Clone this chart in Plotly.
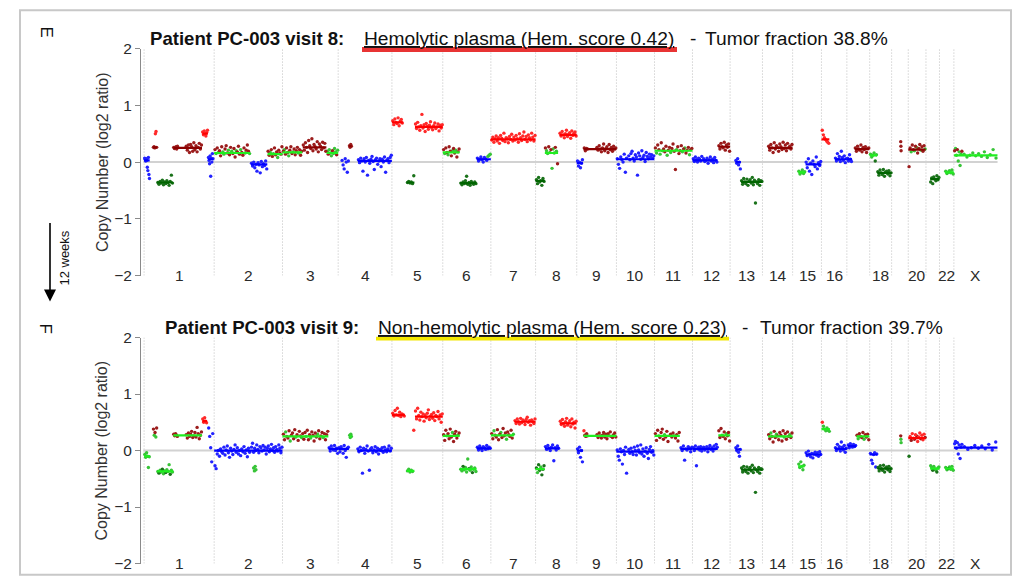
import plotly.graph_objects as go

# ---------------- data ----------------
CHR_LEN = [249.3, 243.2, 198.0, 191.2, 180.9, 171.1, 159.1, 146.4, 141.2, 135.5, 135.0, 133.9,
           115.2, 107.3, 102.5, 90.4, 81.2, 78.1, 59.1, 63.0, 48.1, 51.3, 155.3]
CHR_LABELS = ['1', '2', '3', '4', '5', '6', '7', '8', '9', '10', '11', '12', '13', '14', '15', '16',
              '', '18', '', '20', '', '22', 'X']

# segment lines: (chrom, start Mb, end Mb, log2 ratio, colour code)
TOP_SEGS = [
    (1, 0, 20, 0.03, 'b'), (1, 32, 46, 0.26, 'd'), (1, 47, 103, -0.36, 'k'), (1, 104, 206, 0.25, 'd'),
    (1, 207, 227, 0.50, 'r'), (1, 228, 246, 0.05, 'b'),
    (2, 0, 128, 0.16, 'G'), (2, 131, 189, -0.04, 'b'), (2, 190, 243, 0.14, 'G'),
    (3, 0, 70, 0.17, 'G'), (3, 72, 156, 0.26, 'd'), (3, 157, 198, 0.16, 'G'),
    (4, 39, 48, 0.28, 'd'), (4, 70, 191, 0.02, 'b'),
    (5, 0, 39, 0.70, 'r'), (5, 53, 80, -0.36, 'k'), (5, 82, 181, 0.62, 'r'),
    (6, 0, 60, 0.17, 'G'), (6, 62, 120, -0.37, 'k'), (6, 121, 171, 0.05, 'b'),
    (7, 0, 159, 0.40, 'r'),
    (8, 0, 32, -0.33, 'k'), (8, 33, 80, 0.16, 'G'), (8, 85, 146, 0.48, 'r'),
    (9, 0, 22, -0.02, 'b'), (9, 24, 141, 0.23, 'd'),
    (10, 0, 135, 0.05, 'b'),
    (11, 0, 135, 0.20, 'G'),
    (12, 0, 89, 0.03, 'b'), (12, 92, 134, 0.27, 'd'),
    (13, 19, 38, 0.0, 'b'), (13, 39, 115, -0.35, 'k'),
    (14, 20, 107, 0.25, 'd'),
    (15, 20, 45, -0.18, 'G'), (15, 46, 102, -0.04, 'b'),
    (16, 0, 28, 0.40, 'r'), (16, 48, 90, 0.05, 'b'),
    (17, 0, 18, 0.05, 'b'), (17, 28, 80, 0.23, 'd'),
    (18, 0, 26, 0.12, 'G'), (18, 27, 78, -0.19, 'k'),
    (20, 0, 62, 0.22, 'd'),
    (21, 15, 48, -0.30, 'k'),
    (22, 20, 51, -0.18, 'G'),
    (23, 0, 155, 0.12, 'G'),
]

BOT_SEGS = [
    (1, 0, 20, -0.10, 'G'), (1, 47, 103, -0.37, 'G'), (1, 104, 206, 0.27, 'G'), (1, 207, 224, 0.52, 'r'),
    (2, 0, 243, 0.0, 'b'),
    (3, 0, 163, 0.25, 'G'), (3, 164, 198, 0.03, 'b'),
    (4, 0, 38, 0.03, 'b'), (4, 40, 48, 0.25, 'G'), (4, 68, 191, 0.0, 'b'),
    (5, 0, 46, 0.63, 'r'), (5, 53, 80, -0.36, 'G'), (5, 82, 181, 0.60, 'r'),
    (6, 0, 60, 0.26, 'G'), (6, 62, 120, -0.33, 'G'), (6, 121, 171, 0.04, 'b'),
    (7, 0, 82, 0.27, 'G'), (7, 84, 159, 0.51, 'r'),
    (8, 0, 32, -0.33, 'G'), (8, 33, 84, 0.04, 'b'), (8, 86, 146, 0.48, 'r'),
    (9, 0, 22, 0.0, 'b'), (9, 24, 141, 0.26, 'G'),
    (10, 0, 135, -0.02, 'b'),
    (11, 0, 90, 0.26, 'G'), (11, 92, 135, 0.03, 'b'),
    (12, 0, 90, 0.03, 'b'), (12, 92, 134, 0.27, 'G'),
    (13, 19, 38, 0.02, 'b'), (13, 39, 115, -0.34, 'k'),
    (14, 20, 107, 0.25, 'G'),
    (15, 20, 42, -0.28, 'G'), (15, 46, 102, -0.07, 'b'),
    (16, 0, 30, 0.38, 'G'), (16, 48, 90, 0.03, 'b'),
    (17, 3, 33, 0.08, 'b'), (17, 34, 80, 0.25, 'G'),
    (18, 0, 27, -0.07, 'b'), (18, 28, 78, -0.32, 'k'),
    (20, 0, 62, 0.22, 'r'),
    (21, 15, 48, -0.32, 'G'),
    (22, 20, 51, -0.32, 'G'),
    (23, 0, 155, 0.05, 'b'),
]

# bin blocks: (chrom, start Mb, end Mb, centre, default colour, bin deviations in 1/100 log2 units [+colour])
TOP_BINS = [
    (1, 1, 20, 0.03, 'b', "4 2 -1 3 0 -12 -18 5 -25 -32"),
    (1, 32, 46, 0.26, 'd', "0 1 -1 24r 28r 0"),
    (1, 47, 103, -0.36, 'k', "0 -3 2 -1 4 -4 1 -2 3 0 -5 2 13 -1"),
    (1, 104, 120, 0.25, 'd', "1 -1 0 2 -2 3"),
    (1, 148, 206, 0.25, 'd', "3 -4 5 -8 6 2 -6 9 -3 4 -7 1 8 -2 5"),
    (1, 207, 227, 0.50, 'r', "3 -2 5 0 -4 2 6"),
    (1, 228, 246, 0.05, 'b', "3 -2 -8 6 -30 2 -5 10 1"),
    (2, 1, 128, 0.17, 'd', "5 -2g 8 0g 3 -6 10 1g -3g 6 12 -1 4g -4 9 2g -2 7 -8 3g 1 11 -3 5g 0 -5 8 -1g 4 13 2 -2g"),
    (2, 131, 189, -0.04, 'b', "2 -3 4 -6 0 -12 3 -1 -15 5 -4 1 -2 6 -8"),
    (2, 190, 243, 0.15, 'd', "4 -3 2g 7 -5 0g 10 -2 3 -7g 6 1 -1 12"),
    (3, 1, 70, 0.17, 'd', "2 5g -3 8 0 -6g 4 10 -2 1g 6 -4 3 9 -1g 5 -5 2"),
    (3, 72, 156, 0.26, 'd', "4 -5 8 0 -9 12 3 -2 15 -6 5 1 -3 10 -8 6 2 -4 9 -1 7 -7"),
    (3, 157, 198, 0.16, 'g', "3 -2d 6 0 -5 4d -1 8 2 -3d 5"),
    (4, 12, 38, 0.0, 'b', "3 -5 -12 6 0 -18 2"),
    (4, 39, 48, 0.28, 'd', "1 -2 3 0"),
    (4, 70, 191, 0.02, 'b', "2 -3 5 0 -18 4 -2 6 -25 1 -4 3 8 -1 -15 2 5 -6 0 4 -10 3 -2 7 -20 1 4 -3 6 10"),
    (5, 1, 39, 0.70, 'r', "3 -4 6 0 -2 8 -6 2 5 -1"),
    (5, 53, 80, -0.36, 'k', "0 2 -1 1 -2 12"),
    (5, 82, 181, 0.62, 'r', "5 -3 8 0 -6 2 22 -2 4 -8 6 1 -4 3 9 -1 -5 2 7 -3 0 5 -7 3 -2 4"),
    (6, 1, 60, 0.17, 'd', "5 -2g 8 0 -4g 10 2 -6 3g 7 -1 4g -8 1 6"),
    (6, 62, 120, -0.37, 'k', "0 -3 2 -1 4 12 -2 1 -4 3 0 -2 2 -1"),
    (6, 121, 171, 0.05, 'b', "2 -3 0 4 -1 -5 3 1 -2 5g 7g 9g"),
    (7, 1, 159, 0.41, 'r', "-2 3 -6 0 5 -4 2 -8 6 1 -3 10 -5 2 0 -7 4 -1 8 -4 3 -2 6 0 -6 9 2 -3 5 12 -1 4 -5 7 2 -2 10 3 -4 6"),
    (8, 1, 32, -0.33, 'k', "2 -5 6 -2 0 -8 4 -1"),
    (8, 33, 80, 0.17, 'g', "8d 3 -2 10d 0 5d -28 6 -1 9d 2 -20d"),
    (8, 85, 146, 0.48, 'r', "3 -2 6 0 -5 2 8 -3 1 4 -6 7 -1 3 5 -2"),
    (9, 1, 22, -0.02, 'b', "4 -5 2 -8 0 6"),
    (9, 25, 40, 0.23, 'd', "2 -3 1 0"),
    (9, 70, 141, 0.23, 'd', "3 -2 6 0 -5 2 9 -3 1 4 -6 8 -1 3 -4 5 0 2"),
    (10, 1, 38, 0.04, 'b', "2 -8 -15 5 0 -4 10 -22 3"),
    (10, 42, 135, 0.07, 'b', "4 -3 8 12 0 -5 6 2 -30 9 4 -2 13 1 5 -6 10 3 -1 7 2 6 0 4"),
    (11, 1, 135, 0.20, 'd', "5 -4g 10 2 -6g 14 0g 3 -2 8 -8g 1 6 -3g 4 12 -1 -33 2g 7 -5 0 9 -2g 3 5g -4 1 6 -7g 2 4"),
    (12, 1, 35, 0.04, 'b', "2 -3 5 0 -4 3 1 -2 6"),
    (12, 38, 89, 0.03, 'b', "3 -2 0 4 -5 1 6 -1 2 -4 5 0 -3"),
    (12, 92, 134, 0.27, 'd', "2 -4 6 0 -2 8 -6 3 -1 5 -8"),
    (13, 19, 38, 0.0, 'b', "3 -2 6 -5 0 -12"),
    (13, 39, 115, -0.35, 'k', "2 -4 6 0 -3 5 -6 1 4 -2 8 -5 3 -37 0 -3 4 -6 2 1"),
    (14, 20, 107, 0.25, 'd', "3 -4 6 0 -8 9 -2 4 1 -6 7 2 -3 10 -1 5 -5 8 0 3 -2 6"),
    (15, 20, 45, -0.18, 'g', "2 -3 0 4 -2 1"),
    (15, 46, 102, -0.04, 'b', "4 -6 10 -12 2 -18 6 0 -4 13 -8 3 -2 5"),
    (16, 1, 28, 0.40, 'r', "16 8 3 0 -3 -5 -7"),
    (16, 48, 90, 0.05, 'b', "2 -3 10 0 5 -4 14 3 -2 6 -6 1"),
    (17, 1, 18, 0.05, 'b', "2 -3 8 0 -4"),
    (17, 28, 80, 0.23, 'd', "2 -4 5 0 -2 7 -5 3 -1 4 -6 1 2"),
    (18, 1, 26, 0.12, 'g', "2 -3 0 4 -10k 1"),
    (18, 27, 78, -0.19, 'k', "2 -4 5 0 -3 6 -6 1 3 -2 4 -5 0"),
    (19, 32, 34, 0.28, 'd', "8 0 -8"),
    (20, 1, 62, 0.22, 'd', "-30 3 -4g 8 0 -2g 6 4g -6 2 9 -1g 5 -3 7 1g"),
    (21, 15, 48, -0.30, 'k', "-5 2 -8 4 0 -3 6 -1 3"),
    (22, 20, 51, -0.18, 'g', "2 -2 0 3 -1 4 -3"),
    (23, 1, 30, 0.14, 'g', "6d 10 -2 8d -12 4 -20 0 5d"),
    (23, 31, 155, 0.12, 'g', "2 -3 0 4 -1 3 -2 6 -4 1 10 -5"),
]

BOT_BINS = [
    (1, 1, 20, -0.10, 'g', "3 -2 6 0 -20 -1"),
    (1, 32, 46, 0.30, 'd', "8 -3g 2 -6g 10"),
    (1, 47, 103, -0.37, 'g', "0 -3k 2 -1 4k -4 1 -2k 3 0 12 -5k 2 -1"),
    (1, 104, 120, 0.27, 'd', "2 -1 3 0 -2"),
    (1, 148, 206, 0.26, 'd', "2 -4 5 -1 3 8 -3 0 6 -2 15 4 -5 1 7"),
    (1, 207, 224, 0.52, 'r', "4 -2 6 0 -3"),
    (1, 228, 246, 0.10, 'b', "30 15 -5 -30 20"),
    (2, 1, 128, -0.02, 'b', "-25 -30 -4 2 -8 5 0 -3 8 -6 3 10 -2 -10 6 1 -5 4 12 -1 7 -4 2 -7 5 0 9 -3 3 -9 6 -1"),
    (2, 131, 243, 0.02, 'b', "4 11 -5 2 -2 8 0 -6 5 3 -3 7 -1 4 -8 2 6 -4 1 9 -2 3 -5 5 0 -3 8 2 -6 4"),
    (2, 139, 150, -0.33, 'g', "2 -3 5 -1"),
    (3, 1, 163, 0.25, 'd', "4 -6 8g 0 -3 10 -8g 2 6 -4 12 -1g 3 -7 9 1 -2g 5 -5 7 0g 11 -6 3 -3g 8 2 -8 6 -1 4g 10 -4 1 7 -2g 5 -6 3 9"),
    (3, 164, 198, 0.03, 'b', "2 -4 5 0 -2 6 -3 1 -8"),
    (4, 1, 38, 0.03, 'b', "2 -5 4 0 -8 6 -3 -15 1 3"),
    (4, 40, 48, 0.25, 'g', "2 -2 4 0"),
    (4, 68, 191, 0.0, 'b', "3 -2 6 0 -40 4 -5 2 8 -1 -35 3 5 -4 1 7 -2 4 -6 2 0 5 -3 6 1 -2 3 8 -1 4"),
    (5, 1, 46, 0.63, 'r', "3 -2 8 0 12 -1 5 -3 2 0 -2"),
    (5, 53, 80, -0.36, 'g', "0 3 -2 1 -1 72r"),
    (5, 82, 181, 0.60, 'r', "10 -4 15 2 -6 8 0 5 -8 3 -2 6 12 -5 1 4 -3 7 -7 2 0 9 -4 3 -10 5"),
    (6, 1, 60, 0.26, 'd', "2 -8 10 0g 4 -5 12 -2 6g -10 3 8 -4 1g 5"),
    (6, 62, 120, -0.33, 'g', "0 -3 5k -1 3 -5 18 1k -2 4 -6k 0 2 -4"),
    (6, 121, 171, 0.04, 'b', "2 -3 4 0 -4 3 1 -2 5 -1 2 0"),
    (7, 1, 82, 0.27, 'd', "3 -6 8g 0 -3 10 -8 2 5g -4 12 -1 4 -7g 6 1 -2 9 -5 2g"),
    (7, 84, 159, 0.51, 'r', "2 -3 5 0 -4 6 -2 3 1 -5 4 8 -1 2 -6 3 0 -3 5"),
    (8, 1, 32, -0.33, 'k', "2 -6g 8 -2 4g -10 0 6"),
    (8, 33, 84, 0.04, 'b', "3 -2 5 0 -4 2 6 -22 1 -3 4 0"),
    (8, 86, 146, 0.48, 'r', "4 -2 7 0 -5 3 9 -3 1 5 -6 8 -1 2 -8 4"),
    (9, 1, 22, 0.0, 'b', "3 -4 6 -12 0 -20"),
    (9, 24, 40, 0.27, 'd', "8r 0 -2 3 -1"),
    (9, 70, 141, 0.26, 'd', "2 -3 5 0 -4 1 6 -2 3 -5 4 0 7 -1 -3 2 5 -2"),
    (10, 1, 38, -0.02, 'b', "3 -8 -15 5 0 -22 2 -5 8 -38"),
    (10, 42, 135, -0.02, 'b', "4 -3 6 0 -5 8 2 -6 10 3 -2 12 -4 5 -8 1 7 -3 -12 4 9 -1 2 -6"),
    (11, 1, 50, 0.26, 'd', "4 -8 10 0g -3 6 12 -6 2g -2 8 -10"),
    (11, 55, 90, 0.26, 'd', "3 -2 5 0g -4 2 -9 6"),
    (11, 92, 135, 0.03, 'b', "2 -3 5 -20 0 -2 4 1 -5 3"),
    (12, 1, 35, 0.03, 'b', "2 -3 5 -30 0 3 -2 4 -4"),
    (12, 38, 90, 0.03, 'b', "3 -2 0 4 -5 1 6 -1 2 -4 5 0 8 3"),
    (12, 92, 134, 0.27, 'd', "8 -4 12 0g -2 6 -6 3g -1 5 -10"),
    (13, 19, 38, 0.02, 'b', "3 -2 6 -5 -12 0"),
    (13, 39, 115, -0.34, 'k', "3 -4 6 0 -3 5 -6 1 4 -2 8 -5 3 -40 0 -3 4 -6 2 1"),
    (14, 20, 107, 0.25, 'd', "3 -4 6g 0 -10 9 -2 4g 1 -6 7 2 -8 10 -1g 5 -5 8 0 3g -2 6"),
    (15, 20, 42, -0.28, 'g', "4 -2 8 0 -6 2"),
    (15, 46, 102, -0.07, 'b', "3 -2 6 0 -4 2 -6 1 4 -1 3 -3 5 0"),
    (16, 1, 30, 0.38, 'g', "12r 5 0 -3 2 -2 -4"),
    (16, 48, 90, 0.03, 'b', "2 -3 8 0 4 -4 12 3 -2 6 -6 1"),
    (17, 3, 33, 0.08, 'b', "2 -3 4 0 -2 3 -1 1"),
    (17, 34, 80, 0.25, 'd', "2 -4g 5 0 -2 7 -5g 3 -1 4 -6"),
    (18, 1, 27, -0.07, 'b', "2 -10 -16 0 3 -22 1"),
    (18, 28, 78, -0.32, 'k', "2 -4 5 0 -3 6 -6 1 3 -2 4 -5 0"),
    (19, 32, 34, 0.20, 'd', "6 0g -6g"),
    (20, 1, 62, 0.22, 'r', "-32k 3 -4d 8 0 -2d 6 4d -6 2 9 -1d 5 -3 7 1d"),
    (21, 15, 48, -0.32, 'g', "5 2 -3k 4 0 -3 -6k 1 3"),
    (22, 20, 51, -0.32, 'g', "2 -2 0k 3 -1 4 -3"),
    (23, 1, 30, 0.06, 'b', "6 10 -2 8 -12 4 -20 0 5"),
    (23, 31, 155, 0.05, 'b', "2 -3 0 4 -1 3 -2 6 -4 10"),
]

PANEL_TITLES = [
    ("Patient PC-003 visit 8:", "Hemolytic plasma (Hem. score 0.42)", "Tumor fraction 38.8%"),
    ("Patient PC-003 visit 9:", "Non-hemolytic plasma (Hem. score 0.23)", "Tumor fraction 39.7%"),
]

# ---------------- styling ----------------
W, H = 1015, 584
FONT = "Liberation Sans, Arial, Helvetica, sans-serif"
PT_COL = {'r': '#ff2a2a', 'd': '#9b1c1c', 'b': '#2222ff', 'k': '#1a721a', 'g': '#38c438'}
LN_COL = {'r': '#ff0000', 'd': '#8b0000', 'b': '#0000ff', 'k': '#006400', 'G': '#20ee20'}

OFFSETS = [sum(CHR_LEN[:i]) for i in range(len(CHR_LEN))]
XR = [-11, 3045]

# vertical placement calibration (screen px -> layout px)
Y_OFF, Y_SCALE = 8.4, 0.971


def px(x):
    return x / W


def py(y):
    yl = (y - Y_OFF) / Y_SCALE
    return min(1.0, max(0.0, 1 - yl / H))


def parse(tok, default):
    if tok[-1].isalpha():
        return float(tok[:-1]), tok[-1]
    return float(tok), default


fig = go.Figure()
panels = [
    dict(segs=TOP_SEGS, bins=TOP_BINS, xa='x', ya='y', top=48, bot=275),
    dict(segs=BOT_SEGS, bins=BOT_BINS, xa='x2', ya='y2', top=337, bot=563),
]

shapes = []
annotations = []

for p in panels:
    # vertical dotted chromosome boundaries
    for i in range(len(CHR_LEN)):
        shapes.append(dict(type='line', xref=p['xa'], yref=p['ya'], x0=OFFSETS[i], x1=OFFSETS[i],
                           y0=-2, y1=2, line=dict(color='#bdbdbd', width=1, dash='1px,2px'), layer='below'))
    # zero line
    shapes.append(dict(type='line', xref=p['xa'], yref=p['ya'], x0=XR[0] + 8, x1=OFFSETS[-1] + CHR_LEN[-1],
                       y0=0, y1=0, line=dict(color='#d2d2d2', width=2), layer='below'))
    # bins
    pts = {}
    for chrom, s, e, c, col, devs in p['bins']:
        toks = devs.split()
        n = len(toks)
        for i, t in enumerate(toks):
            d, cc = parse(t, col)
            pos = OFFSETS[chrom - 1] + s + (e - s) * (i + 0.5) / n
            pts.setdefault(cc, ([], []))
            pts[cc][0].append(pos)
            pts[cc][1].append(c + d / 100.0)
    for cc in ['b', 'g', 'k', 'd', 'r']:
        if cc in pts:
            fig.add_trace(go.Scatter(x=pts[cc][0], y=pts[cc][1], mode='markers', xaxis=p['xa'], yaxis=p['ya'],
                                     marker=dict(color=PT_COL[cc], size=3.4, line=dict(width=0)),
                                     showlegend=False, hoverinfo='skip'))
    # segment lines
    lines = {}
    for chrom, s, e, lv, col in p['segs']:
        lines.setdefault(col, ([], []))
        lines[col][0].extend([OFFSETS[chrom - 1] + s, OFFSETS[chrom - 1] + e, None])
        lines[col][1].extend([lv, lv, None])
    for col, (xs, ys) in lines.items():
        fig.add_trace(go.Scatter(x=xs, y=ys, mode='lines', xaxis=p['xa'], yaxis=p['ya'],
                                 line=dict(color=LN_COL[col], width=2.2), showlegend=False, hoverinfo='skip'))
    # chromosome labels
    for i, lab in enumerate(CHR_LABELS):
        if lab:
            annotations.append(dict(x=OFFSETS[i] + CHR_LEN[i] / 2, y=-2, xref=p['xa'], yref=p['ya'], text=lab,
                                    showarrow=False, xanchor='center', yanchor='middle',
                                    font=dict(family=FONT, size=15.5, color='#2a2a2a')))
    # y title
    annotations.append(dict(x=px(102), y=py((p['top'] + p['bot']) / 2), xref='paper', yref='paper',
                            text='Copy Number (log2 ratio)', textangle=-90, showarrow=False,
                            xanchor='center', yanchor='middle', font=dict(family=FONT, size=16, color='#333')))

# titles
title_pos = [
    dict(y=38, x1=148, x2=362, xd=688, x3=703, ul=(362, 677, 46.5, 51.5), ucol='#e83434'),
    dict(y=327, x1=163, x2=376, xd=740, x3=758, ul=(376, 729, 336.2, 340), ucol='#f2e600'),
]
for (t1, t2, t3), tp in zip(PANEL_TITLES, title_pos):
    f = dict(family=FONT, size=19.2, color='#111')
    annotations.append(dict(x=px(tp['x1']), y=py(tp['y']), xref='paper', yref='paper', text='<b>' + t1 + '</b>',
                            showarrow=False, xanchor='left', yanchor='middle', font=dict(f, size=18.6)))
    annotations.append(dict(x=px(tp['x2']), y=py(tp['y']), xref='paper', yref='paper', text='<u>' + t2 + '</u>',
                            showarrow=False, xanchor='left', yanchor='middle', font=f))
    annotations.append(dict(x=px(tp['xd']), y=py(tp['y']), xref='paper', yref='paper', text='-',
                            showarrow=False, xanchor='left', yanchor='middle', font=f))
    annotations.append(dict(x=px(tp['x3']), y=py(tp['y']), xref='paper', yref='paper', text=t3,
                            showarrow=False, xanchor='left', yanchor='middle', font=f))
    x0, x1, y0, y1 = tp['ul']
    shapes.append(dict(type='rect', xref='paper', yref='paper', x0=px(x0), x1=px(x1), y0=py(y1), y1=py(y0),
                       fillcolor=tp['ucol'], line=dict(width=0), layer='above'))

# panel letters and time arrow
annotations.append(dict(x=px(46), y=py(31), xref='paper', yref='paper', text='E', textangle=90, showarrow=False,
                        xanchor='center', yanchor='middle', font=dict(family=FONT, size=17, color='#111')))
annotations.append(dict(x=px(45), y=py(328), xref='paper', yref='paper', text='F', textangle=90, showarrow=False,
                        xanchor='center', yanchor='middle', font=dict(family=FONT, size=17, color='#111')))
annotations.append(dict(x=px(50), y=py(301), xref='paper', yref='paper', ax=0, ay=-80, text='',
                        showarrow=True, arrowhead=2, arrowsize=1.5, arrowwidth=1.6, arrowcolor='#000'))
annotations.append(dict(x=px(65), y=py(258), xref='paper', yref='paper', text='12 weeks', textangle=-90,
                        showarrow=False, xanchor='center', yanchor='middle',
                        font=dict(family=FONT, size=13, color='#111')))

# frame
shapes.append(dict(type='rect', xref='paper', yref='paper', x0=px(20), x1=px(1011), y0=0.002, y1=0.998,
                   line=dict(color='#c8c8c8', width=2), layer='below'))

yax = dict(range=[-2, 2], tickvals=[-2, -1, 0, 1, 2], showgrid=False, zeroline=False, showline=True,
           linecolor='#8a8a8a', linewidth=1, ticks='outside', ticklen=5, tickcolor='#8a8a8a',
           tickfont=dict(family=FONT, size=15.5, color='#2a2a2a'))
xax = dict(range=XR, visible=False, showgrid=False, zeroline=False)

fig.update_layout(
    autosize=True, margin=dict(l=0, r=0, t=0, b=0),
    paper_bgcolor='white', plot_bgcolor='white',
    xaxis=dict(xax, domain=[px(141), px(1000)], anchor='y'),
    yaxis=dict(yax, domain=[py(275), py(48)], anchor='x'),
    xaxis2=dict(xax, domain=[px(141), px(1000)], anchor='y2'),
    yaxis2=dict(yax, domain=[py(563), py(337)], anchor='x2'),
    shapes=shapes, annotations=annotations, showlegend=False,
)

# the plot div is pinned to the page corner at exactly the window size (no body-margin offset)
fig.write_html("out.html", config={'displayModeBar': False, 'responsive': False},
               default_width="%dpx; position:absolute; left:0px; top:0px" % W,
               default_height="%dpx" % H)
